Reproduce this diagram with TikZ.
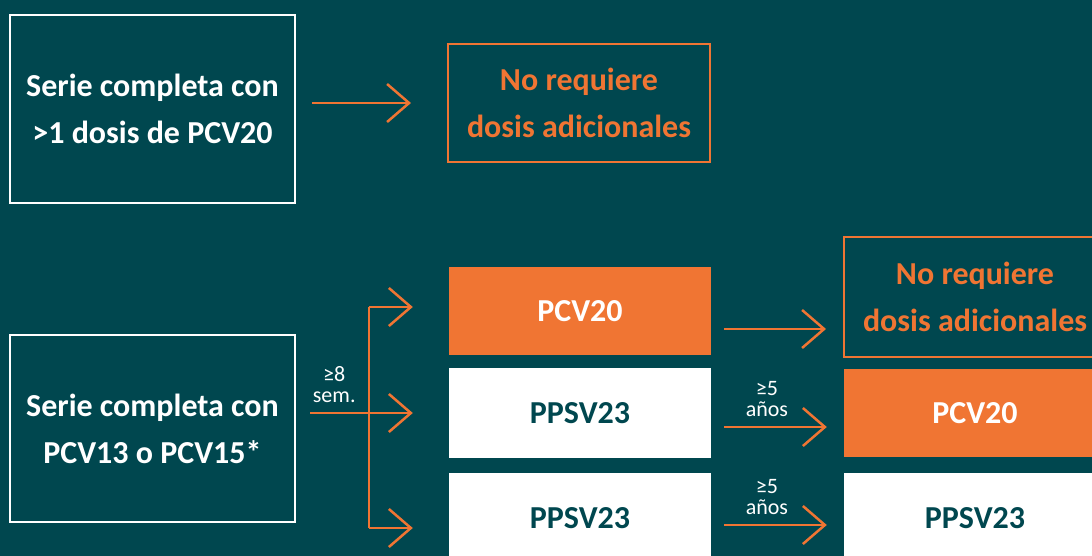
\documentclass[tikz,border=0pt]{standalone}
\usepackage{fontspec}
\setmainfont{Carlito}
\usepackage{tikz}
\usetikzlibrary{arrows.meta}

\definecolor{fondo}{HTML}{00474F}
\definecolor{naranja}{HTML}{F07533}

\tikzset{
  caja/.style={draw=white, line width=2pt, text=white, font=\fontsize{32}{47}\selectfont\bfseries, align=center},
  cajanar/.style={draw=naranja, line width=2pt, text=naranja, font=\fontsize{32}{47}\selectfont\bfseries, align=center, minimum width=262pt},
  llena/.style={fill=naranja, text=white, font=\fontsize{32}{38}\selectfont\bfseries, minimum width=262pt, minimum height=88pt},
  blanca/.style={fill=white, text=fondo, font=\fontsize{32}{38}\selectfont\bfseries, minimum width=262pt, minimum height=90pt},
  flecha/.style={draw=naranja, line width=2.5pt, -{Straight Barb[length=22pt, width=38pt, line width=2.5pt]}},
  linea/.style={draw=naranja, line width=2.5pt},
  plazo/.style={text=white, font=\fontsize{22}{21}\selectfont, align=center, inner sep=0pt}
}

\begin{document}
\begin{tikzpicture}[x=1pt, y=-1pt]

  % background
  \useasboundingbox (0,0) rectangle (1092,556);
  \fill[fondo] (0,0) rectangle (1092,556);

  % Top row
  \node[caja, minimum width=285pt, minimum height=188pt] (serieA) at (152.5,109) {Serie completa con\\>1 dosis de PCV20};
  \node[cajanar, minimum height=118pt] (noreqA) at (579,103) {No requiere\\dosis adicionales};
  \draw[flecha, shorten <=16pt, shorten >=36pt] (serieA.east |- noreqA.west) -- (noreqA.west);

  % Bottom row, left
  \node[caja, minimum width=285pt, minimum height=187pt] (serieB) at (152.5,428.5) {Serie completa con\\PCV13 o PCV15*};

  % Middle column
  \node[llena]  (pcvA)  at (580,311) {PCV20};
  \node[blanca] (ppsvA) at (580,413) {PPSV23};
  \node[blanca] (ppsvB) at (580,518) {PPSV23};

  % Right column
  \node[cajanar, minimum height=120pt] (noreqB) at (975,297) {No requiere\\dosis adicionales};
  \node[llena]  (pcvB)  at (975,413) {PCV20};
  \node[blanca] (ppsvC) at (975,518) {PPSV23};

  % fork after 8 weeks
  \coordinate (forkT) at (369,307);
  \coordinate (forkB) at (369,528);
  \draw[linea] (forkT) -- (forkB);
  \draw[flecha, shorten >=36pt] (forkT) -- (forkT -| pcvA.west);
  \draw[flecha, shorten >=36pt] (forkB) -- (forkB -| ppsvB.west);
  \draw[flecha, shorten <=14pt, shorten >=36pt] (serieB.east |- ppsvA.west) -- (ppsvA.west)
    node[plazo, pos=0.25, above=9pt] {≥8\\sem.};

  % right arrows
  \draw[flecha, shorten <=13pt, shorten >=17pt] ([yshift=-18pt]pcvA.east) -- ([yshift=-18pt]pcvA.east -| noreqB.west);
  \draw[flecha, shorten <=13pt, shorten >=17pt] ([yshift=-14pt]ppsvA.east) -- ([yshift=-14pt]ppsvA.east -| pcvB.west)
    node[plazo, pos=0.42, above=9pt] {≥5\\años};
  \draw[flecha, shorten <=13pt, shorten >=17pt] ([yshift=-7pt]ppsvB.east) -- ([yshift=-7pt]ppsvB.east -| ppsvC.west)
    node[plazo, pos=0.42, above=9pt] {≥5\\años};

\end{tikzpicture}
\end{document}
